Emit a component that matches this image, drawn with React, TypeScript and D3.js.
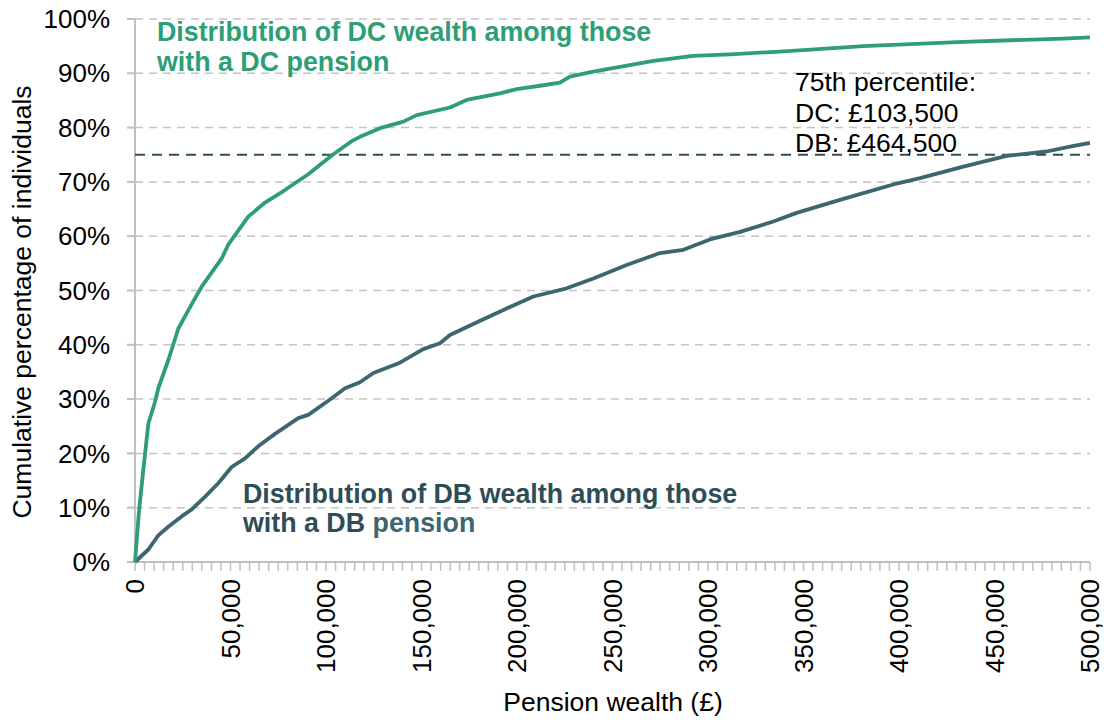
import React from 'react';
import * as d3 from 'd3';

// pension wealth (£) and cumulative % of individuals
const dcWealth = [0, 2000, 4350, 7000, 10500, 12200, 17450, 22700, 29700, 34900, 45400, 48900, 59300, 68100, 78500, 90700, 103500, 113400, 117800, 128300, 140500, 147500, 164900, 173600, 191100, 199800, 213800, 222500, 227700, 239900, 253900, 271400, 292300, 311500, 337700, 381300, 433700, 486000, 500000];
const dcPct = [0, 9, 17, 25.5, 29.5, 32, 37.2, 43, 47.5, 50.7, 55.9, 58.5, 63.6, 66.2, 68.5, 71.4, 75, 77.5, 78.3, 79.9, 81.1, 82.3, 83.7, 85.1, 86.3, 87.1, 87.8, 88.3, 89.4, 90.3, 91.2, 92.3, 93.2, 93.5, 94.0, 95.0, 95.8, 96.4, 96.6];

const dbWealth = [0, 7000, 12200, 17400, 24400, 29700, 36600, 43600, 50600, 57600, 64500, 73300, 85500, 90700, 101200, 110000, 117800, 124800, 138700, 150900, 159700, 164900, 182400, 194600, 208600, 226000, 240000, 257400, 274900, 287100, 301000, 316800, 334200, 346400, 369100, 398800, 411000, 433700, 456400, 477300, 489500, 500000];
const dbPct = [0, 2.3, 4.9, 6.5, 8.4, 9.7, 12, 14.5, 17.5, 19.1, 21.3, 23.6, 26.5, 27.1, 29.7, 32, 33.1, 34.8, 36.7, 39.2, 40.3, 41.8, 44.7, 46.7, 48.9, 50.4, 52.2, 54.7, 56.9, 57.5, 59.4, 60.8, 62.7, 64.3, 66.7, 69.7, 70.7, 72.8, 74.8, 75.6, 76.5, 77.2];

const yTicks = [0, 10, 20, 30, 40, 50, 60, 70, 80, 90, 100];
const xTicks = [0, 50000, 100000, 150000, 200000, 250000, 300000, 350000, 400000, 450000, 500000];
const percentileLine = 75;
const annotation = ['75th percentile:', 'DC: £103,500', 'DB: £464,500'];

const GREEN = '#2e9e74';
const TEAL = '#3c6670';
const DARK = '#2e4d56';
const GRID = '#c3c3c3';
const FONT = '"Liberation Sans", Arial, sans-serif';

export default function App() {
  const width = 1106;
  const height = 720;
  const x = d3.scaleLinear().domain([0, 500000]).range([135, 1090]);
  const y = d3.scaleLinear().domain([0, 100]).range([562, 19]);

  const line = d3.line<[number, number]>()
    .x(d => x(d[0]))
    .y(d => y(d[1]));

  const dcPath = line(dcWealth.map((w, i) => [w, dcPct[i]]));
  const dbPath = line(dbWealth.map((w, i) => [w, dbPct[i]]));

  const minorTicks = d3.range(0, 500001, 5000);
  const fmt = d3.format(',');

  return (
    <svg width={width} height={height} style={{ position: 'absolute', left: 0, top: 0, background: '#fff' }} fontFamily={FONT}>
      {/* gridlines */}
      {yTicks.filter(t => t > 0).map(t => (
        <line key={'g' + t} x1={x(0)} x2={x(500000)} y1={y(t)} y2={y(t)} stroke={GRID} strokeWidth={1.5} strokeDasharray="8,6" />
      ))}
      {/* y axis */}
      <line x1={x(0)} x2={x(0)} y1={y(100)} y2={y(0)} stroke="#bfbfbf" strokeWidth={2} />
      {yTicks.map(t => (
        <g key={'y' + t}>
          <line x1={x(0) - 8} x2={x(0)} y1={y(t)} y2={y(t)} stroke="#bfbfbf" strokeWidth={2} />
          <text x={110} y={y(t)} dy="0.35em" textAnchor="end" fontSize={26} fill="#000">{t}%</text>
        </g>
      ))}
      {/* x axis */}
      <line x1={x(0)} x2={x(500000)} y1={y(0)} y2={y(0)} stroke="#bfbfbf" strokeWidth={2} />
      {minorTicks.map(t => (
        <line key={'m' + t} x1={x(t)} x2={x(t)} y1={y(0)} y2={y(0) + 9} stroke="#bfbfbf" strokeWidth={1.5} />
      ))}
      {xTicks.map(t => (
        <text key={'x' + t} transform={`translate(${x(t)},579) rotate(-90)`} dy="0.35em" textAnchor="end" fontSize={26} fill="#000">{fmt(t)}</text>
      ))}
      {/* axis titles */}
      <text x={613} y={711} textAnchor="middle" fontSize={26.5} fill="#000">Pension wealth (£)</text>
      <text transform="translate(31,302) rotate(-90)" textAnchor="middle" fontSize={26.5} fill="#000">Cumulative percentage of individuals</text>

      {/* 75th percentile line */}
      <line x1={x(0)} x2={x(500000)} y1={y(percentileLine)} y2={y(percentileLine)} stroke={DARK} strokeWidth={2} strokeDasharray="10,7" />

      {/* curves */}
      <path d={dbPath || ''} fill="none" stroke={TEAL} strokeWidth={3.8} strokeLinejoin="round" />
      <path d={dcPath || ''} fill="none" stroke={GREEN} strokeWidth={3.8} strokeLinejoin="round" />

      {/* labels */}
      <text fontSize={26.8} fontWeight="bold" fill={GREEN}>
        <tspan x={157} y={41}>Distribution of DC wealth among those</tspan>
        <tspan x={157} y={71}>with a DC pension</tspan>
      </text>
      <text fontSize={26.8} fontWeight="bold" fill={DARK}>
        <tspan x={243} y={503}>Distribution of DB wealth among those</tspan>
        <tspan x={243} y={532}>with a DB <tspan fill={TEAL}>pension</tspan></tspan>
      </text>
      <text fontSize={26.5} fill="#000">
        {annotation.map((s, i) => (
          <tspan key={i} x={795} y={91 + i * 30.5}>{s}</tspan>
        ))}
      </text>
    </svg>
  );
}
